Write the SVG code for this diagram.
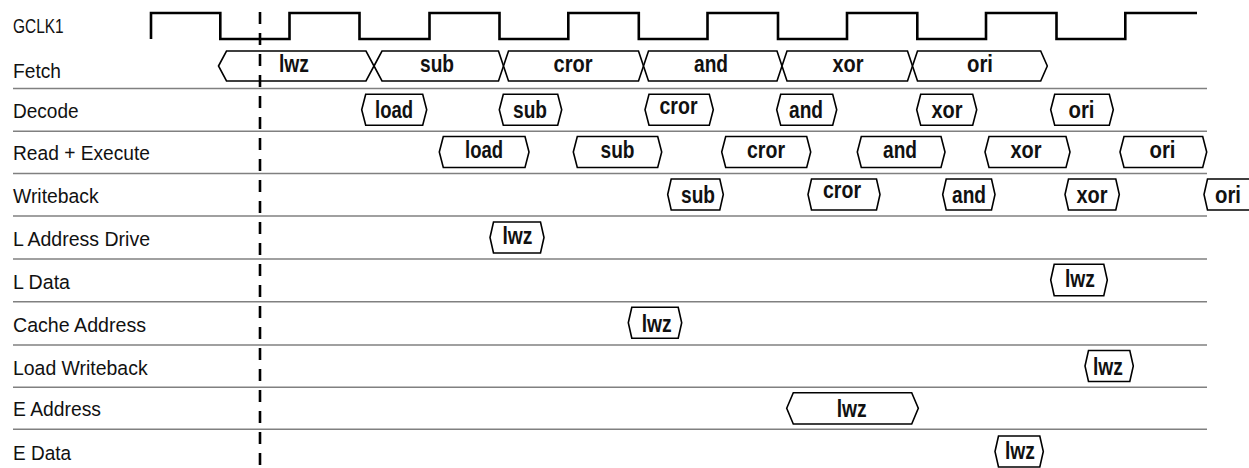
<svg xmlns="http://www.w3.org/2000/svg" width="1249" height="468" viewBox="0 0 1249 468">
<style>
.lbl{font-family:"Liberation Sans",Arial,sans-serif;font-size:20.5px;fill:#111}
.bt{font-family:"Liberation Sans",Arial,sans-serif;font-size:24px;font-weight:bold;fill:#111;text-anchor:middle}
.bus{fill:#fff;stroke:#000;stroke-width:1.6;stroke-linejoin:miter}
.sep{stroke:#808080;stroke-width:1.6}
.clk{fill:none;stroke:#000;stroke-width:2.6}
.ref{stroke:#000;stroke-width:2.6;stroke-dasharray:12 9}
</style>
<rect width="1249" height="468" fill="#fff"/>
<g id="separators">
<line class="sep" x1="13" y1="88.5" x2="1207" y2="88.5"/>
<line class="sep" x1="13" y1="131.2" x2="1207" y2="131.2"/>
<line class="sep" x1="13" y1="173.5" x2="1207" y2="173.5"/>
<line class="sep" x1="13" y1="216" x2="1207" y2="216"/>
<line class="sep" x1="13" y1="259" x2="1207" y2="259"/>
<line class="sep" x1="13" y1="301.7" x2="1207" y2="301.7"/>
<line class="sep" x1="13" y1="345" x2="1207" y2="345"/>
<line class="sep" x1="13" y1="387.3" x2="1207" y2="387.3"/>
<line class="sep" x1="13" y1="429.3" x2="1207" y2="429.3"/>
</g>
<g id="labels">
<text class="lbl" x="13" y="33.3" textLength="50.6" lengthAdjust="spacingAndGlyphs">GCLK1</text>
<text class="lbl" x="13" y="77.8" textLength="48" lengthAdjust="spacingAndGlyphs">Fetch</text>
<text class="lbl" x="13" y="117.5" textLength="65.6" lengthAdjust="spacingAndGlyphs">Decode</text>
<text class="lbl" x="13" y="159.5" textLength="137" lengthAdjust="spacingAndGlyphs">Read + Execute</text>
<text class="lbl" x="13" y="202.7" textLength="85.6" lengthAdjust="spacingAndGlyphs">Writeback</text>
<text class="lbl" x="13" y="245.5" textLength="137" lengthAdjust="spacingAndGlyphs">L Address Drive</text>
<text class="lbl" x="13" y="289.3" textLength="57" lengthAdjust="spacingAndGlyphs">L Data</text>
<text class="lbl" x="13" y="331.7" textLength="133" lengthAdjust="spacingAndGlyphs">Cache Address</text>
<text class="lbl" x="13" y="374.8" textLength="134.6" lengthAdjust="spacingAndGlyphs">Load Writeback</text>
<text class="lbl" x="13" y="416" textLength="88" lengthAdjust="spacingAndGlyphs">E Address</text>
<text class="lbl" x="13" y="460" textLength="58" lengthAdjust="spacingAndGlyphs">E Data</text>
</g>
<g id="clock">
<path class="clk" d="M151,39 V13 H220.3 V39 H289.5 V13 H359.5 V39 H429.5 V13 H499.5 V39 H568.3 V13 H638.8 V39 H707.5 V13 H778 V39 H847 V13 H917.3 V39 H986 V13 H1056.5 V39 H1125.3 V13 H1197"/>
</g>
<g id="fetch">
<polygon class="bus" points="218.5,66 226.5,51 366,51 374,66 366,81 226.5,81"/>
<text class="bt" x="294" y="72" textLength="30" lengthAdjust="spacingAndGlyphs">lwz</text>
<polygon class="bus" points="374,66 382,51 498.5,51 503.5,66 498.5,81 382,81"/>
<text class="bt" x="437" y="72" textLength="34" lengthAdjust="spacingAndGlyphs">sub</text>
<polygon class="bus" points="503.5,66 508.5,51 638.5,51 643.5,66 638.5,81 508.5,81"/>
<text class="bt" x="573" y="72" textLength="39" lengthAdjust="spacingAndGlyphs">cror</text>
<polygon class="bus" points="643.5,66 648.5,51 777,51 782,66 777,81 648.5,81"/>
<text class="bt" x="711" y="72" textLength="34" lengthAdjust="spacingAndGlyphs">and</text>
<polygon class="bus" points="782,66 787,51 907.5,51 912.5,66 907.5,81 787,81"/>
<text class="bt" x="848" y="72" textLength="31" lengthAdjust="spacingAndGlyphs">xor</text>
<polygon class="bus" points="912.5,66 917.5,51 1040.7,51 1047.3,66 1040.7,81 917.5,81"/>
<text class="bt" x="980" y="72" textLength="26" lengthAdjust="spacingAndGlyphs">ori</text>
</g>
<g id="decode">
<polygon class="bus" points="361.7,109.7 365.7,94.2 422.7,94.2 426.7,109.7 422.7,125.2 365.7,125.2"/>
<text class="bt" x="394" y="118" textLength="38" lengthAdjust="spacingAndGlyphs">load</text>
<polygon class="bus" points="499.3,109.7 503.3,94.2 557.7,94.2 561.7,109.7 557.7,125.2 503.3,125.2"/>
<text class="bt" x="530" y="118" textLength="34" lengthAdjust="spacingAndGlyphs">sub</text>
<polygon class="bus" points="645,109.7 649,94.2 709.3,94.2 713.3,109.7 709.3,125.2 649,125.2"/>
<text class="bt" x="678.5" y="113.5" textLength="38" lengthAdjust="spacingAndGlyphs">cror</text>
<polygon class="bus" points="776.7,109.7 780.7,94.2 832.7,94.2 836.7,109.7 832.7,125.2 780.7,125.2"/>
<text class="bt" x="806" y="118" textLength="34" lengthAdjust="spacingAndGlyphs">and</text>
<polygon class="bus" points="916.7,109.7 920.7,94.2 972.7,94.2 976.7,109.7 972.7,125.2 920.7,125.2"/>
<text class="bt" x="947" y="118" textLength="31" lengthAdjust="spacingAndGlyphs">xor</text>
<polygon class="bus" points="1050.7,109.7 1054.7,94.2 1109.3,94.2 1113.3,109.7 1109.3,125.2 1054.7,125.2"/>
<text class="bt" x="1081.5" y="118" textLength="26" lengthAdjust="spacingAndGlyphs">ori</text>
</g>
<g id="read-execute">
<polygon class="bus" points="439.3,152 443.3,136.5 525,136.5 529,152 525,167.5 443.3,167.5"/>
<text class="bt" x="484" y="158.3" textLength="38" lengthAdjust="spacingAndGlyphs">load</text>
<polygon class="bus" points="573.3,152 577.3,136.5 657.7,136.5 661.7,152 657.7,167.5 577.3,167.5"/>
<text class="bt" x="617.5" y="158.3" textLength="34" lengthAdjust="spacingAndGlyphs">sub</text>
<polygon class="bus" points="721.7,152 725.7,136.5 806.7,136.5 810.7,152 806.7,167.5 725.7,167.5"/>
<text class="bt" x="766" y="158.3" textLength="38" lengthAdjust="spacingAndGlyphs">cror</text>
<polygon class="bus" points="857.3,152 861.3,136.5 941,136.5 945,152 941,167.5 861.3,167.5"/>
<text class="bt" x="900" y="158.3" textLength="34" lengthAdjust="spacingAndGlyphs">and</text>
<polygon class="bus" points="985,152 989,136.5 1066,136.5 1070,152 1066,167.5 989,167.5"/>
<text class="bt" x="1026" y="158.3" textLength="31" lengthAdjust="spacingAndGlyphs">xor</text>
<polygon class="bus" points="1120,152 1124,136.5 1202.7,136.5 1206.7,152 1202.7,167.5 1124,167.5"/>
<text class="bt" x="1162.5" y="158.3" textLength="26" lengthAdjust="spacingAndGlyphs">ori</text>
</g>
<g id="writeback">
<polygon class="bus" points="667.7,194.5 671.2,179 719.8,179 723.3,194.5 719.8,210 671.2,210"/>
<text class="bt" x="698" y="203" textLength="34" lengthAdjust="spacingAndGlyphs">sub</text>
<polygon class="bus" points="808,194.5 811.5,179 876.5,179 880,194.5 876.5,210 811.5,210"/>
<text class="bt" x="842" y="198.3" textLength="38" lengthAdjust="spacingAndGlyphs">cror</text>
<polygon class="bus" points="942.7,194.5 946.2,179 991.5,179 995,194.5 991.5,210 946.2,210"/>
<text class="bt" x="969" y="203" textLength="34" lengthAdjust="spacingAndGlyphs">and</text>
<polygon class="bus" points="1065,194.5 1068.5,179 1115.8,179 1119.3,194.5 1115.8,210 1068.5,210"/>
<text class="bt" x="1092" y="203" textLength="31" lengthAdjust="spacingAndGlyphs">xor</text>
<polygon class="bus" points="1204,194.5 1207.5,179 1250,179 1253.5,194.5 1250,210 1207.5,210"/>
<text class="bt" x="1228" y="203" textLength="26" lengthAdjust="spacingAndGlyphs">ori</text>
</g>
<g id="l-address-drive">
<polygon class="bus" points="490,237.5 493.5,222 540.5,222 544,237.5 540.5,253 493.5,253"/>
<text class="bt" x="517.5" y="243.5" textLength="30" lengthAdjust="spacingAndGlyphs">lwz</text>
</g>
<g id="l-data">
<polygon class="bus" points="1050.7,280 1054.2,264.3 1103.8,264.3 1107.3,280 1103.8,295.7 1054.2,295.7"/>
<text class="bt" x="1080" y="286.7" textLength="30" lengthAdjust="spacingAndGlyphs">lwz</text>
</g>
<g id="cache-address">
<polygon class="bus" points="628.3,322.8 631.8,307.3 678.2,307.3 681.7,322.8 678.2,338.3 631.8,338.3"/>
<text class="bt" x="656.7" y="332" textLength="30" lengthAdjust="spacingAndGlyphs">lwz</text>
</g>
<g id="load-writeback">
<polygon class="bus" points="1085,366 1088.5,350.5 1129.8,350.5 1133.3,366 1129.8,381.5 1088.5,381.5"/>
<text class="bt" x="1108" y="374.5" textLength="30" lengthAdjust="spacingAndGlyphs">lwz</text>
</g>
<g id="e-address">
<polygon class="bus" points="786.7,408.3 793.3,392.7 911.7,392.7 918.3,408.3 911.7,424 793.3,424"/>
<text class="bt" x="851.7" y="416.5" textLength="30" lengthAdjust="spacingAndGlyphs">lwz</text>
</g>
<g id="e-data">
<polygon class="bus" points="995,451.5 998.5,436 1039.8,436 1043.3,451.5 1039.8,467 998.5,467"/>
<text class="bt" x="1020" y="459" textLength="30" lengthAdjust="spacingAndGlyphs">lwz</text>
</g>
<g id="reference-line">
<line class="ref" x1="260" y1="12" x2="260" y2="468"/>
</g>
</svg>
